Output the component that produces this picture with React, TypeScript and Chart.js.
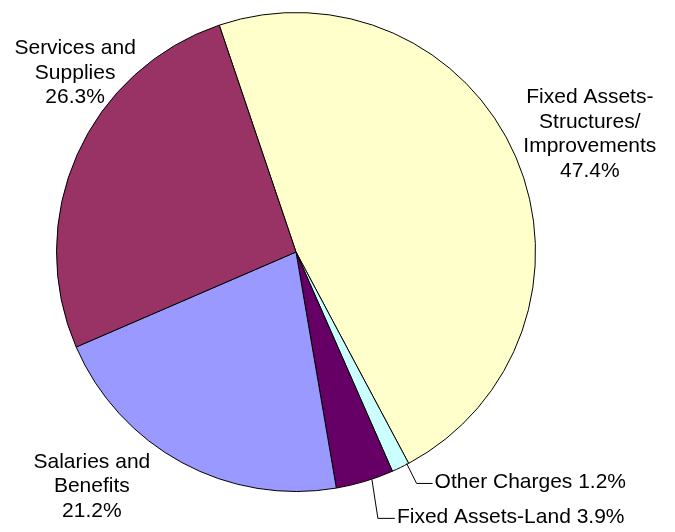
import React, { useEffect, useRef } from "react";
import { Chart, registerables } from "chart.js";

Chart.register(...registerables);

const categories = [
  "Fixed Assets-Structures/Improvements",
  "Other Charges",
  "Fixed Assets-Land",
  "Salaries and Benefits",
  "Services and Supplies",
];
const labelLines = [
  ["Fixed Assets-", "Structures/", "Improvements"],
  ["Other Charges"],
  ["Fixed Assets-Land"],
  ["Salaries and", "Benefits"],
  ["Services and", "Supplies"],
];
const values = [47.4, 1.2, 3.9, 21.2, 26.3];
const colors = ["#FFFFCC", "#CCFFFF", "#660066", "#9999FF", "#993366"];

// label layout relative to the middle of each slice's outer edge
type LabelCfg = {
  block?: { dx: number; dy: number };
  leader?: { from: [number, number]; elbow: [number, number]; end: [number, number] };
};
const labelLayout: LabelCfg[] = [
  { block: { dx: 74, dy: -23 } },
  { leader: { from: [6, -4], elbow: [16, 16], end: [32, 16] } },
  { leader: { from: [7, -2], elbow: [13, 37], end: [30, 37] } },
  { block: { dx: -90, dy: 24 } },
  { block: { dx: -2, dy: -82 } },
];

const FONT = '21px "Liberation Sans", Arial, sans-serif';
const LINE_H = 24.5;

const labelPlugin = {
  id: "pieLabels",
  afterDatasetsDraw(chart: any) {
    const ctx = chart.ctx;
    const meta = chart.getDatasetMeta(0);
    ctx.save();
    ctx.font = FONT;
    ctx.fillStyle = "#000";
    ctx.strokeStyle = "#000";
    ctx.lineWidth = 1;
    meta.data.forEach((arc: any, i: number) => {
      const { x, y, startAngle, endAngle, outerRadius } = arc.getProps(
        ["x", "y", "startAngle", "endAngle", "outerRadius"],
        true
      );
      const mid = (startAngle + endAngle) / 2;
      const ex = x + Math.cos(mid) * outerRadius;
      const ey = y + Math.sin(mid) * outerRadius;
      const pct = values[i].toFixed(1) + "%";
      const cfg = labelLayout[i];
      if (cfg.block) {
        const lines = [...labelLines[i], pct];
        const cx = ex + cfg.block.dx;
        const cy = ey + cfg.block.dy;
        ctx.textAlign = "center";
        ctx.textBaseline = "middle";
        lines.forEach((t, k) => {
          ctx.fillText(t, cx, cy + (k - (lines.length - 1) / 2) * LINE_H);
        });
      } else if (cfg.leader) {
        const L = cfg.leader;
        ctx.beginPath();
        ctx.moveTo(ex + L.from[0], ey + L.from[1]);
        ctx.lineTo(ex + L.elbow[0], ey + L.elbow[1]);
        ctx.lineTo(ex + L.end[0], ey + L.end[1]);
        ctx.stroke();
        ctx.textAlign = "left";
        ctx.textBaseline = "middle";
        ctx.fillText(labelLines[i][0] + " " + pct, ex + L.end[0] + 2, ey + L.end[1] - 1);
      }
    });
    ctx.restore();
  },
};

export default function App() {
  const ref = useRef<HTMLCanvasElement | null>(null);
  useEffect(() => {
    if (!ref.current) return;
    const chart = new Chart(ref.current, {
      type: "pie",
      data: {
        labels: categories,
        datasets: [
          {
            data: values,
            backgroundColor: colors,
            borderColor: "#000",
            borderWidth: 1,
          },
        ],
      },
      options: {
        responsive: false,
        animation: false,
        rotation: -18.7,
        layout: { padding: { left: 56, right: 139, top: 12, bottom: 40 } },
        plugins: {
          legend: { display: false },
          tooltip: { enabled: false },
        },
      },
      plugins: [labelPlugin],
    });
    return () => chart.destroy();
  }, []);
  return (
    <div style={{ position: "absolute", left: 0, top: 0, width: 675, height: 532, background: "#fff" }}>
      <canvas ref={ref} width={675} height={532} />
    </div>
  );
}
